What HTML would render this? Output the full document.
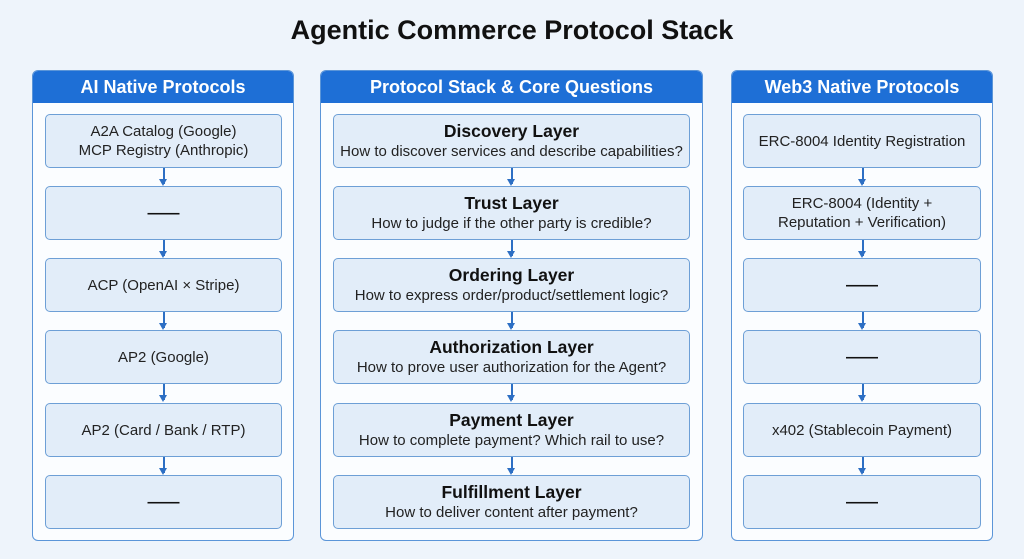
<!DOCTYPE html>
<html><head><style>
body{margin:0;width:1024px;height:559px;background:#eef4fb;font-family:"Liberation Sans",sans-serif;position:relative;overflow:hidden}
.t{position:absolute;left:0;width:1024px;top:15px;text-align:center;font-weight:bold;font-size:27px;color:#111}
.col{position:absolute;top:70px;height:471px;background:#fbfdff;border:1.5px solid #5b95d8;border-radius:6px;box-sizing:border-box;overflow:hidden}
.h{height:32px;background:#1e6fd6;color:#fff;font-weight:bold;font-size:18px;text-align:center;line-height:33px}
.b{position:absolute;height:54px;background:#e2edf9;border:1.5px solid #6d9fd6;border-radius:5px;box-sizing:border-box;display:flex;flex-direction:column;justify-content:center;align-items:center;text-align:center;font-size:15px;color:#222;line-height:19px}
.b b{font-size:17.5px;color:#111;line-height:21px}
.d{font-weight:bold;color:#111;font-size:16px}
.a{position:absolute;width:1.5px;background:#2d6fc4;height:16px}
.a:after{content:"";position:absolute;left:-4px;bottom:-2px;border-left:4.75px solid transparent;border-right:4.75px solid transparent;border-top:7px solid #2d6fc4}
</style></head><body>
<div class="t">Agentic Commerce Protocol Stack</div>
<div class="col" style="left:32px;width:262px"><div class="h">AI Native Protocols</div></div>
<div class="col" style="left:320px;width:383px"><div class="h">Protocol Stack &amp; Core Questions</div></div>
<div class="col" style="left:731px;width:262px"><div class="h">Web3 Native Protocols</div></div>
<div id="boxes"></div>
<script>
var ys=[114,186,258,330,403,475];
var L=["A2A Catalog (Google)<br>MCP Registry (Anthropic)","——","ACP (OpenAI × Stripe)","AP2 (Google)","AP2 (Card / Bank / RTP)","——"];
var M=[["Discovery Layer","How to discover services and describe capabilities?"],["Trust Layer","How to judge if the other party is credible?"],["Ordering Layer","How to express order/product/settlement logic?"],["Authorization Layer","How to prove user authorization for the Agent?"],["Payment Layer","How to complete payment? Which rail to use?"],["Fulfillment Layer","How to deliver content after payment?"]];
var R=["ERC-8004 Identity Registration","ERC-8004 (Identity +<br>Reputation + Verification)","——","——","x402 (Stablecoin Payment)","——"];
var h="";
var cols=[[45,237,163],[333,357,511],[743,238,862]];
function cls(s){return s=="——"?"b d":"b";}
for(var i=0;i<6;i++){
 var y=ys[i];
 h+='<div class="'+cls(L[i])+'" style="left:45px;width:237px;top:'+y+'px">'+L[i]+'</div>';
 h+='<div class="b" style="left:333px;width:357px;top:'+y+'px"><b>'+M[i][0]+'</b>'+M[i][1]+'</div>';
 h+='<div class="'+cls(R[i])+'" style="left:743px;width:238px;top:'+y+'px">'+R[i]+'</div>';
 if(i<5){for(var c=0;c<3;c++){h+='<div class="a" style="left:'+cols[c][2]+'px;top:'+(y+54)+'px"></div>';}}
}
document.getElementById("boxes").innerHTML=h;
</script>
</body></html>
